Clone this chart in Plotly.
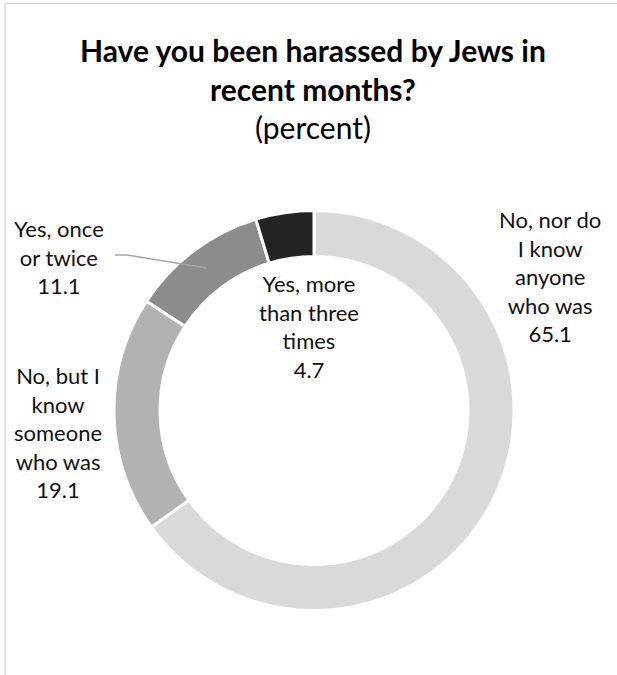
import plotly.graph_objects as go

categories = ["No, nor do<br>I know<br>anyone<br>who was",
              "No, but I<br>know<br>someone<br>who was",
              "Yes, once<br>or twice",
              "Yes, more<br>than three<br>times"]
values = [65.1, 19.1, 11.1, 4.7]
colors = ["#d9d9d9", "#b2b2b2", "#8c8c8c", "#242424"]
title_lines = ["Have you been harassed by Jews in", "recent months?"]
subtitle = "(percent)"

W, H = 617, 675
FONT = "Lato"

cx, cy, R = 314, 410.5, 200

fig = go.Figure(go.Pie(
    values=values,
    labels=[c.replace("<br>", " ") for c in categories],
    sort=False,
    direction="clockwise",
    rotation=0,
    hole=0.77,
    marker=dict(colors=colors, line=dict(color="white", width=3)),
    textinfo="none",
    hoverinfo="label+value",
    showlegend=False,
    domain=dict(x=[(cx - R) / W, (cx + R) / W], y=[(H - cy - R) / H, (H - cy + R) / H]),
))

# label positions in pixels (center x, center y of block)
label_pos = [(550, 276), (58, 433), (59, 257), (309, 326)]

annotations = []
for cat, val, (px, py) in zip(categories, values, label_pos):
    annotations.append(dict(
        text=f"{cat}<br>{val:.1f}", x=px / W, y=1 - py / H, xref="paper", yref="paper",
        showarrow=False, xanchor="center", yanchor="middle", align="center",
        font=dict(family=FONT, size=22, color="#111111"),
    ))

title_y = [50, 89]
for t, ty in zip(title_lines, title_y):
    annotations.append(dict(
        text=f"<b>{t}</b>", x=313 / W, y=1 - ty / H, xref="paper", yref="paper",
        showarrow=False, xanchor="center", yanchor="middle",
        font=dict(family=FONT, size=30, color="#000000"),
    ))
annotations.append(dict(
    text=subtitle, x=313 / W, y=1 - 127 / H, xref="paper", yref="paper",
    showarrow=False, xanchor="center", yanchor="middle",
    font=dict(family=FONT, size=30, color="#000000"),
))

shapes = [
    # leader line for "Yes, once or twice"
    dict(type="path", xref="paper", yref="paper",
         path=f"M {115 / W} {1 - 255 / H} L {127 / W} {1 - 255 / H} L {207 / W} {1 - 268 / H}",
         line=dict(color="#a6a6a6", width=1.3)),
    # chart-area border (top and left visible)
    dict(type="line", xref="paper", yref="paper", x0=5 / W, x1=1.01, y0=1 - 3.5 / H, y1=1 - 3.5 / H,
         line=dict(color="#d9d9d9", width=1.5)),
    dict(type="line", xref="paper", yref="paper", x0=5 / W, x1=5 / W, y0=1 - 3.5 / H, y1=-0.01,
         line=dict(color="#d9d9d9", width=1.5)),
]

fig.update_layout(
    width=W, height=H,
    margin=dict(l=0, r=0, t=0, b=0),
    paper_bgcolor="white", plot_bgcolor="white",
    annotations=annotations, shapes=shapes,
)

fig.write_html("out.html")
